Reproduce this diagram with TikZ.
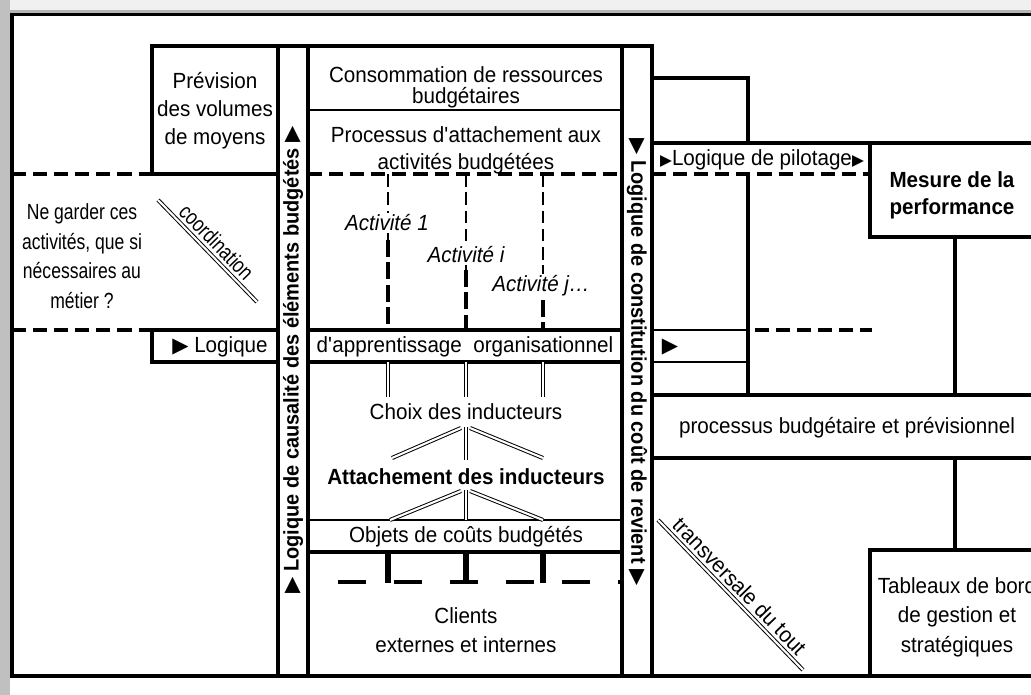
\documentclass[tikz,border=0pt]{standalone}
\usepackage{fontspec}
\setmainfont{Liberation Sans}[FakeStretch=0.94]
\newfontfamily\narrowsans{Liberation Sans}[FakeStretch=0.8]
\newfontfamily\symfont{DejaVu Sans}
\usepackage{tikz}
\definecolor{bandgray}{HTML}{C0C0C0}
\definecolor{topgray}{HTML}{F0F0F0}
\definecolor{rulegray}{HTML}{B4B4B4}
\newcommand{\tri}[1]{{\symfont\fontsize{#1}{#1}\selectfont ▶}}

\begin{document}
\begin{tikzpicture}[x=0.025cm,y=-0.025cm,
	wall/.style={line width=2.8pt},
	fine/.style={line width=1.4pt},
	dashwall/.style={line width=2.8pt,dash pattern=on 10pt off 5pt},
	dbl/.style={double,double distance=1.5pt,line width=0.7pt},
	lbl/.style={font=\fontsize{15.6}{21}\selectfont,align=center,inner sep=0pt},
	lblb/.style={font=\bfseries\fontsize{15.6}{21}\selectfont,align=center,inner sep=0pt},
	act/.style={font=\itshape\fontsize{15.6}{21}\selectfont,fill=white,inner sep=1pt},
	bandtxt/.style={font=\bfseries\fontsize{15.1}{18}\selectfont,inner sep=0pt}]
	\useasboundingbox (0,0) rectangle (1031,695);
	\clip (0,0) rectangle (1031,695);
	\fill[topgray] (0,0) rectangle (1031,11);
	\fill[rulegray] (0,10) rectangle (1031,13);
	\fill[bandgray] (0,0) rectangle (10,695);
	\draw[wall] (1040,14.5) -- (12,14.5) -- (12,676) -- (1040,676);
	\draw[wall] (152,174) -- (152,46) -- (652,46);
	\draw[wall] (152,174) -- (278,174);
	\draw[dashwall] (12,174) -- (152,174);
	\draw[dashwall] (308,174) -- (622,174);
	\draw[dashwall] (652,174) -- (870,174);
	\draw[dashwall] (12,330) -- (152,330);
	\draw[dashwall] (755,330) -- (872,330);
	\draw[fine] (308,110) -- (622,110);
	\draw[fine] (308,520) -- (622,520);
	\draw[wall] (152,330) rectangle (278,362);
	\draw[wall] (308,330) -- (622,330) (308,362) -- (622,362) (308,552) -- (622,552);
	\draw[fine] (652,330) -- (748,330) (652,362) -- (748,362);
	\draw[wall] (652,78) -- (748,78) -- (748,143);
	\draw[wall] (748,174) -- (748,395);
	\draw[wall] (652,143) -- (1040,143);
	\draw[wall] (870,143) -- (870,237) -- (1040,237);
	\draw[wall] (955,237) -- (955,395);
	\draw[wall] (652,395) -- (1040,395) (652,458) -- (1040,458);
	\draw[wall] (955,458) -- (955,550);
	\draw[wall] (870,676) -- (870,550) -- (1040,550);
	\foreach \x/\y in {388/240,466/270,543/300}{
		\draw[line width=1.2pt,dash pattern=on 9pt off 4pt] (\x,174) -- (\x,\y);
		\draw[line width=2.6pt,dash pattern=on 12pt off 4pt] (\x,\y) -- (\x,330);
		\draw[dbl] (\x,362) -- (\x,397);
		\draw[line width=4pt] (\x,552) -- (\x,583);
	}
	\draw[line width=3pt,dash pattern=on 19.9pt off 19.9pt] (338,582) -- (620,582);
	\draw[dbl] (461,428) -- (392,458);
	\draw[dbl] (470,428) -- (543,458);
	\draw[dbl] (466,427) -- (466,460);
	\draw[dbl] (461,491) -- (390,520);
	\draw[dbl] (470,491) -- (543,520);
	\draw[dbl] (466,490) -- (466,520);
	\draw[dbl] (158,200) -- node[sloped,above,lbl,font=\narrowsans\fontsize{15.6}{21}\selectfont,inner sep=3pt] (coord) {coordination} (257,302);
	\draw[dbl] (658,520) -- node[sloped,above,lbl,inner sep=3pt] (transv) {transversale du tout} (803,670);
	\draw[wall,fill=white] (278,46) rectangle (308,676);
	\draw[wall,fill=white] (622,46) rectangle (652,676);
	\draw (293,360) node[bandtxt,rotate=90] (causal) {\tri{15pt} Logique de causalité des éléments budgétés \tri{15pt}};
	\draw (637,362) node[bandtxt,rotate=-90] (constit) {\tri{15pt} Logique de constitution du coût de revient \tri{15pt}};
	\draw (215,111) node[lbl] (prevision) {Prévision\\[-1pt]des volumes\\[-1pt]de moyens};
	\draw (466,87) node[lbl] (conso) {Consommation de ressources\\[-6pt]budgétaires};
	\draw (466,150) node[lbl] (attach) {Processus d\textquotesingle attachement aux\\[-2pt]activités budgétées};
	\draw (82,256) node[lbl,font=\narrowsans\fontsize{15.6}{21}\selectfont] (garder) {Ne garder ces\\activités, que si\\nécessaires au\\métier ?};
	\draw (387,223) node[act] (act1) {Activité 1};
	\draw (466,255) node[act] (acti) {Activité i};
	\draw (541,286) node[act] (actj) {Activité j\dots};
	\draw (220,347) node[lbl] (logique) {\tri{15pt} Logique};
	\draw (465,347) node[lbl] (apprent) {d\textquotesingle apprentissage\ \ organisationnel};
	\draw (670,347) node[lbl] (suite) {\tri{15pt}};
	\draw (762,160) node[lbl,fill=white,inner sep=1pt] (pilotage) {\tri{11pt}Logique de pilotage\tri{11pt}};
	\draw (952,195) node[lblb] (mesure) {Mesure de la\\[-2pt]performance};
	\draw (466,412) node[lbl] (choix) {Choix des inducteurs};
	\draw (466,477) node[lblb] (attind) {Attachement des inducteurs};
	\draw (466,537) node[lbl] (objets) {Objets de coûts budgétés};
	\draw (466,630) node[lbl] (clients) {Clients\\externes et internes};
	\draw (847,428) node[lbl] (budget) {processus budgétaire et prévisionnel};
	\draw (957,617) node[lbl] (tableaux) {Tableaux de bord\\de gestion et\\stratégiques};
\end{tikzpicture}
\end{document}
